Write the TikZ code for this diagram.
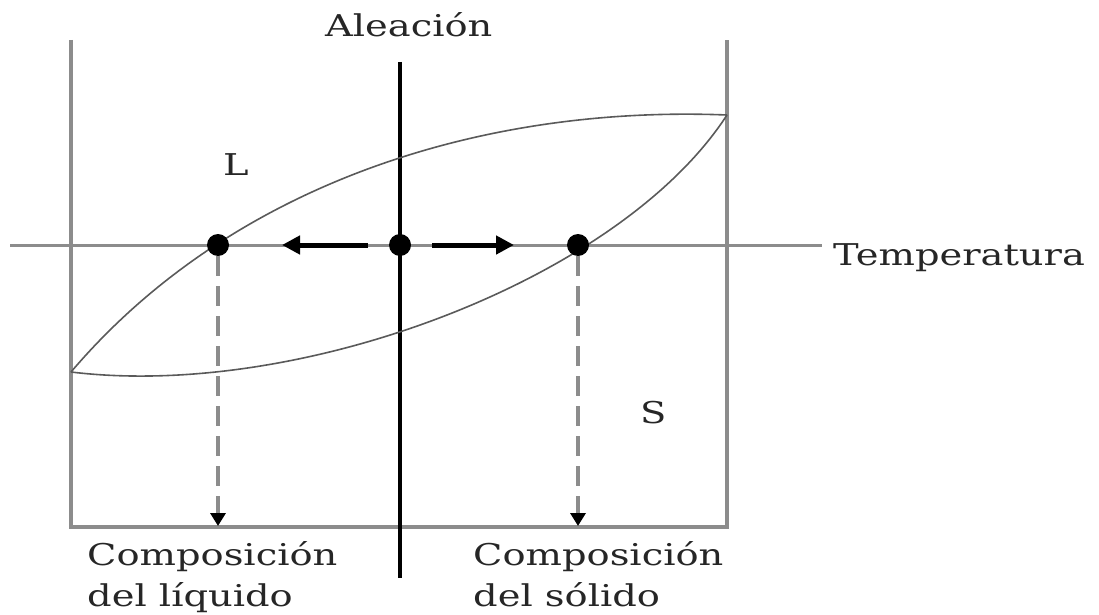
\documentclass[tikz,border=0pt]{standalone}
\usepackage{fontspec}
\setmainfont[FakeStretch=1.28]{DejaVu Serif}
\usetikzlibrary{arrows.meta}
\definecolor{framegray}{HTML}{8C8C8C}
\definecolor{curvegray}{HTML}{5A5A5A}
\begin{document}
\begin{tikzpicture}[x=1pt,y=-1pt,
  frame/.style={draw=framegray, line width=3.5pt},
  tline/.style={draw=framegray, line width=3pt},
  alloy/.style={draw=black, line width=3.5pt},
  curve/.style={draw=curvegray, line width=1.6pt},
  dot/.style={circle, fill=black, inner sep=0pt, minimum size=22pt},
  movearrow/.style={draw=black, line width=5pt, -{Triangle[length=18pt,width=18pt]}},
  dasharrow/.style={draw=framegray, line width=4pt, dash pattern=on 20pt off 10pt, -{Triangle[length=13pt,width=15pt,color=black]}},
  lbl/.style={inner sep=0pt, font=\fontsize{30}{30}\selectfont, text=black!85}
]
\useasboundingbox (0,0) rectangle (1099,615);
% frame
\coordinate (TL) at (71,40);
\coordinate (BL) at (71,527);
\coordinate (BR) at (727,527);
\coordinate (TR) at (727,40);
\draw[frame] (TL) -- (BL) -- (BR) -- (TR);
% temperature line
\coordinate (T0) at (10,245);
\coordinate (T1) at (822,245);
\draw[tline] (T0) -- (T1);
\node[lbl, anchor=base west] (temp) at (833,265) {Temperatura};
% alloy line
\coordinate (A0) at (400,62);
\coordinate (A1) at (400,578);
\draw[alloy] (A0) -- (A1);
\node[lbl, anchor=base west] (alea) at (325,37) {Aleación};
% curves
\coordinate (J0) at (71,372);
\coordinate (J1) at (727,115);
\draw[curve] (J0) .. controls (230,185) and (480,105) .. (J1);
\draw[curve] (J0) .. controls (300,400) and (620,280) .. (J1);
% region labels
\node[lbl, anchor=base west] (L) at (223,175) {L};
\node[lbl, anchor=base west] (S) at (640,423) {S};
% dots
\node[dot] (dl) at (218,245) {};
\node[dot] (dc) at (400,245) {};
\node[dot] (dr) at (578,245) {};
% move arrows
\coordinate (la0) at (368,245);
\coordinate (la1) at (282,245);
\coordinate (ra0) at (432,245);
\coordinate (ra1) at (514,245);
\draw[movearrow] (la0) -- (la1);
\draw[movearrow] (ra0) -- (ra1);
% dashed arrows
\coordinate (bl) at (218,526);
\coordinate (br) at (578,526);
\draw[dasharrow] (dl.south) -- (bl);
\draw[dasharrow] (dr.south) -- (br);
% composition labels
\node[lbl, anchor=base west] (cl1) at (87,565) {Composición};
\node[lbl, anchor=base west] (cl2) at (87,606) {del líquido};
\node[lbl, anchor=base west] (cs1) at (473,565) {Composición};
\node[lbl, anchor=base west] (cs2) at (473,606) {del sólido};
\end{tikzpicture}
\end{document}
